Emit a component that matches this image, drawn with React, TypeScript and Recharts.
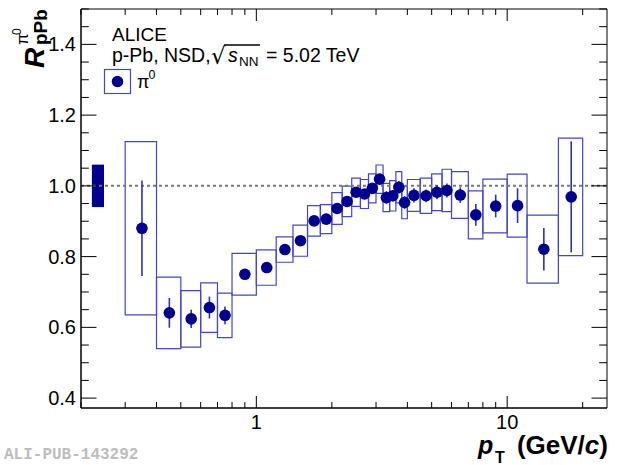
import React from 'react';
import {
  ComposedChart,
  Scatter,
  XAxis,
  YAxis,
  ErrorBar,
  ReferenceArea,
  ReferenceLine,
  Customized,
} from 'recharts';

// ---- data ----
const binLow = [0.3, 0.4, 0.5, 0.6, 0.7, 0.8, 1.0, 1.2, 1.4, 1.6, 1.8, 2.0, 2.2, 2.4, 2.6, 2.8, 3.0, 3.2, 3.4, 3.6, 3.8, 4.0, 4.5, 5.0, 5.5, 6.0, 7.0, 8.0, 10, 12, 16];
const binHigh = [0.4, 0.5, 0.6, 0.7, 0.8, 1.0, 1.2, 1.4, 1.6, 1.8, 2.0, 2.2, 2.4, 2.6, 2.8, 3.0, 3.2, 3.4, 3.6, 3.8, 4.0, 4.5, 5.0, 5.5, 6.0, 7.0, 8.0, 10, 12, 16, 20];
const ptCenter = [0.35, 0.45, 0.55, 0.65, 0.75, 0.9, 1.1, 1.3, 1.5, 1.7, 1.9, 2.1, 2.3, 2.5, 2.7, 2.9, 3.1, 3.3, 3.5, 3.7, 3.9, 4.25, 4.75, 5.25, 5.75, 6.5, 7.5, 9, 11, 14, 18];
const rValue = [0.88, 0.641, 0.624, 0.656, 0.634, 0.75, 0.769, 0.82, 0.845, 0.901, 0.906, 0.936, 0.956, 0.982, 0.977, 0.993, 1.019, 0.967, 0.972, 0.996, 0.953, 0.973, 0.972, 0.982, 0.987, 0.974, 0.918, 0.943, 0.944, 0.821, 0.969];
const statErr = [0.135, 0.042, 0.026, 0.031, 0.025, 0.012, 0.01, 0.01, 0.01, 0.01, 0.01, 0.01, 0.012, 0.012, 0.012, 0.014, 0.015, 0.018, 0.016, 0.018, 0.018, 0.02, 0.018, 0.02, 0.02, 0.022, 0.031, 0.032, 0.049, 0.06, 0.157];
const sysErr = [0.245, 0.101, 0.08, 0.07, 0.063, 0.059, 0.05, 0.036, 0.044, 0.043, 0.041, 0.045, 0.043, 0.04, 0.041, 0.041, 0.04, 0.04, 0.043, 0.044, 0.046, 0.045, 0.05, 0.052, 0.06, 0.066, 0.068, 0.076, 0.089, 0.096, 0.166];

const normBoxX = [0.221, 0.247];
const normBoxY = [0.94, 1.06];

const xDomain = [0.2, 25];
const yDomain = [0.372, 1.5];
const xTicks = [0.2, 0.3, 0.4, 0.5, 0.6, 0.7, 0.8, 0.9, 1, 2, 3, 4, 5, 6, 7, 8, 9, 10, 20];
const xTickLabels = [1, 10];
const yTicks = [0.4, 0.45, 0.5, 0.55, 0.6, 0.65, 0.7, 0.75, 0.8, 0.85, 0.9, 0.95, 1.0, 1.05, 1.1, 1.15, 1.2, 1.25, 1.3, 1.35, 1.4, 1.45, 1.5];
const yTickLabels = [0.4, 0.6, 0.8, 1.0, 1.2, 1.4];

const points = ptCenter.map((pt, i) => ({ pt, r: rValue[i], stat: statErr[i] }));

// ---- layout / style ----
const W = 620;
const H = 465;
const PLOT_LEFT = 81;
const PLOT_RIGHT = 607;
const PLOT_TOP = 9;
const FONT = '"Liberation Sans", Arial, Helvetica, sans-serif';
const MARKER = '#000090';
const BOX = '#4646c6';
const STAT = '#3030b0';

const isLabel = (arr: number[], v: number) => arr.some((a) => Math.abs(a - v) < 1e-9);

const XTick = (props: any) => {
  const { x, y, payload } = props;
  const v = payload.value as number;
  const major = isLabel(xTickLabels, v);
  const len = major ? 12 : 6;
  return (
    <g>
      <line x1={x} x2={x} y1={y} y2={y - len} stroke="#000" strokeWidth={1} />
      <line x1={x} x2={x} y1={PLOT_TOP} y2={PLOT_TOP + len} stroke="#000" strokeWidth={1} />
      {major && (
        <text x={x} y={y + 21} textAnchor="middle" fontSize={20} fontFamily={FONT} fill="#000">
          {String(v)}
        </text>
      )}
    </g>
  );
};

const YTick = (props: any) => {
  const { x, y, payload } = props;
  const v = payload.value as number;
  const major = isLabel(yTickLabels, v);
  const len = major ? 15.5 : 7.8;
  return (
    <g>
      <line x1={x} x2={x + len} y1={y} y2={y} stroke="#000" strokeWidth={1} />
      <line x1={PLOT_RIGHT - len} x2={PLOT_RIGHT} y1={y} y2={y} stroke="#000" strokeWidth={1} />
      {major && (
        <text x={x - 5} y={y + 7} textAnchor="end" fontSize={20} fontFamily={FONT} fill="#000">
          {v.toFixed(1)}
        </text>
      )}
    </g>
  );
};

const Marker = (props: any) => {
  const { cx, cy } = props;
  if (cx == null || cy == null) return null;
  return <circle cx={cx} cy={cy} r={5.8} fill={MARKER} />;
};

const Annotations = () => (
  <g fontFamily={FONT} fill="#000">
    {/* header text */}
    <text x={112} y={41} fontSize={19}>ALICE</text>
    <text x={112} y={61.5} fontSize={19.5}>p-Pb, NSD,</text>
    <text x={211} y={64} fontSize={23} fontFamily="DejaVu Sans">√</text>
    <line x1={224} x2={260} y1={45} y2={45} stroke="#000" strokeWidth={1.3} />
    <text x={228} y={61.5} fontSize={19.5} fontStyle="italic">s</text>
    <text x={239} y={66} fontSize={13.5}>NN</text>
    <text x={266} y={61.5} fontSize={19.5}>= 5.02 TeV</text>

    {/* legend */}
    <rect x={104.5} y={69.5} width={26} height={24} fill="#fff" stroke={BOX} strokeWidth={1.2} />
    <circle cx={117.5} cy={81.5} r={5.8} fill={MARKER} />
    <text x={137} y={88} fontSize={18}>π</text>
    <text x={148.5} y={79} fontSize={12.5}>0</text>

    {/* y-axis title, rotated */}
    <g transform="rotate(-90)">
      <text x={-68} y={44} fontSize={28} fontWeight="bold" fontStyle="italic">R</text>
      <text x={-45} y={47} fontSize={19} fontWeight="bold">pPb</text>
      <text x={-45} y={28} fontSize={17}>π</text>
      <text x={-35} y={21} fontSize={12}>0</text>
    </g>

    {/* x-axis title */}
    <text x={478} y={454} fontSize={25} fontWeight="bold" fontStyle="italic">p</text>
    <text x={495} y={463} fontSize={16} fontWeight="bold">T</text>
    <text x={608} y={454} fontSize={26} fontWeight="bold" textAnchor="end">
      (GeV/<tspan fontStyle="italic">c</tspan>)
    </text>

    {/* watermark */}
    <text x={4} y={459} fontSize={16} fontFamily='"Liberation Mono", "DejaVu Sans Mono", monospace' fontWeight="bold" fill="#bdbdbd">
      ALI-PUB-143292
    </text>
  </g>
);

export default function App() {
  return (
    <div style={{ position: 'absolute', left: 0, top: 0, width: W, height: H, background: '#fff' }}>
      <ComposedChart width={W} height={H} margin={{ top: PLOT_TOP, right: W - PLOT_RIGHT, left: 0, bottom: 0 }}>
        <XAxis
          dataKey="pt"
          type="number"
          scale="log"
          domain={xDomain}
          allowDataOverflow
          ticks={xTicks}
          interval={0}
          tickSize={0}
          tickMargin={0}
          tickLine={false}
          tick={<XTick />}
          axisLine={{ stroke: '#000', strokeWidth: 1 }}
          height={H - 408}
        />
        <YAxis
          dataKey="r"
          type="number"
          domain={yDomain}
          allowDataOverflow
          ticks={yTicks}
          interval={0}
          tickSize={0}
          tickMargin={0}
          tickLine={false}
          tick={<YTick />}
          axisLine={{ stroke: '#000', strokeWidth: 1 }}
          width={PLOT_LEFT}
        />
        <ReferenceArea x1={xDomain[0]} x2={xDomain[1]} y1={yDomain[0]} y2={yDomain[1]} fill="none" stroke="#000" strokeWidth={1} />
        <ReferenceLine y={1} stroke="#777" strokeDasharray="3 3" strokeWidth={2} />
        <ReferenceArea x1={normBoxX[0]} x2={normBoxX[1]} y1={normBoxY[0]} y2={normBoxY[1]} fill={MARKER} fillOpacity={1} stroke="none" />
        {binLow.map((lo, i) => (
          <ReferenceArea
            key={'sys' + i}
            x1={lo}
            x2={binHigh[i]}
            y1={rValue[i] - sysErr[i]}
            y2={rValue[i] + sysErr[i]}
            fill="none"
            stroke={BOX}
            strokeWidth={1.2}
          />
        ))}
        <Scatter data={points} dataKey="r" shape={<Marker />} isAnimationActive={false}>
          <ErrorBar dataKey="stat" direction="y" width={0} stroke={STAT} strokeWidth={1.6} />
        </Scatter>
        <Customized component={<Annotations />} />
      </ComposedChart>
    </div>
  );
}
